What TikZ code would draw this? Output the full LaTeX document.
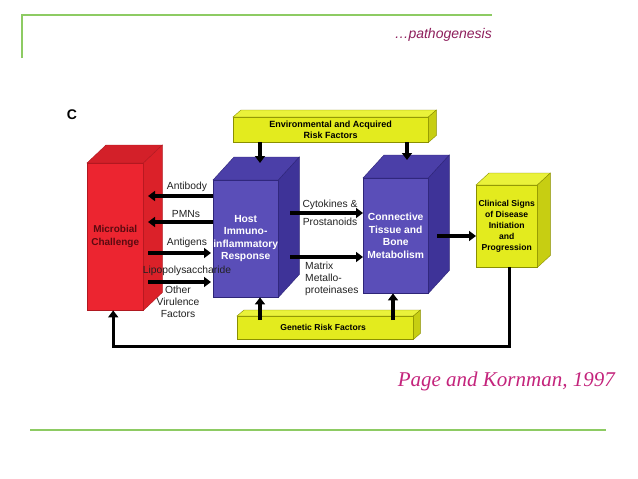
\documentclass[tikz,border=0pt]{standalone}
\usepackage{fontspec}
\setmainfont{Liberation Sans}
\newfontfamily\serifit{Liberation Serif}
\usetikzlibrary{arrows.meta}
\definecolor{redfront}{HTML}{EC2530}
\definecolor{redtop}{HTML}{D32029}
\definecolor{redside}{HTML}{DB2129}
\definecolor{rededge}{HTML}{B01820}
\definecolor{bluefront}{HTML}{5A4EB8}
\definecolor{bluetop}{HTML}{4B3FA8}
\definecolor{blueside}{HTML}{3E3398}
\definecolor{blueedge}{HTML}{2E2578}
\definecolor{yelfront}{HTML}{E3EB1E}
\definecolor{yeltop}{HTML}{EAF23A}
\definecolor{yelside}{HTML}{C7CE12}
\definecolor{yeledge}{HTML}{8A8F00}
\definecolor{slidegreen}{HTML}{8DCB63}
\definecolor{titlepurple}{HTML}{8E1F5C}
\definecolor{citemagenta}{HTML}{C4247C}
\definecolor{labelgray}{HTML}{222222}
\definecolor{maroon}{HTML}{5A0A10}
\tikzset{
  redtext/.style={text=maroon, font=\fontsize{10}{13}\selectfont\bfseries},
  bluetext/.style={text=white, font=\fontsize{10.3}{12.5}\selectfont\bfseries},
  envtext/.style={text=black, font=\fontsize{9}{10.5}\selectfont\bfseries},
  gentext/.style={text=black, font=\fontsize{8.6}{10}\selectfont\bfseries},
  clintext/.style={text=black, font=\fontsize{8.6}{11}\selectfont\bfseries},
  lbl/.style={text=labelgray, font=\fontsize{10.3}{12}\selectfont, inner sep=0pt, align=center},
  arr/.style={line width=3.1pt, draw=black, -{Triangle[length=7pt,width=10pt]}},
}
% #1 name #2 left #3 top #4 width #5 height #6 dx #7 dy #8 palette #9 text-style; text in \cuboidtext
\newcommand\cuboid[9]{%
  \node[anchor=north west, minimum width=#4pt, minimum height=#5pt, inner sep=0pt,
        fill=#8front, draw=#8edge, line width=0.4pt, align=center, #9] (#1) at (#2,#3) {\cuboidtext};
  \filldraw[fill=#8top, draw=#8edge, line width=0.4pt]
    (#1.north west) -- ++(#6,-#7) -- ([shift={(#6,-#7)}]#1.north east) -- (#1.north east) -- cycle;
  \filldraw[fill=#8side, draw=#8edge, line width=0.4pt]
    (#1.north east) -- ++(#6,-#7) -- ([shift={(#6,-#7)}]#1.south east) -- (#1.south east) -- cycle;
}
\begin{document}
\begin{tikzpicture}[x=1pt,y=-1pt]
\useasboundingbox[fill=white] (0,0) rectangle (638,479);
% slide frame
\draw[slidegreen, line width=1.2pt] (22,58) -- (22,15) -- (492,15);
\draw[slidegreen, line width=1.2pt] (30,430) -- (606,430);
\node[anchor=east, text=titlepurple, font=\fontsize{14}{16}\selectfont\itshape, inner sep=0pt] (title) at (492,35) {\ldots pathogenesis};
\node[anchor=east, text=citemagenta, font=\fontsize{21}{24}\serifit\itshape, inner sep=0pt] (cite) at (615,381) {Page and Kornman, 1997};
\node[font=\fontsize{14}{16}\selectfont\bfseries, inner sep=0pt] (letterC) at (72,115) {C};
% boxes
\def\cuboidtext{Microbial\\Challenge}
\cuboid{micro}{87}{163}{56}{147}{19}{18}{red}{redtext}
\def\cuboidtext{Host\\Immuno-\\inflammatory\\Response}
\cuboid{host}{213}{180}{65}{117}{21}{23}{blue}{bluetext}
\def\cuboidtext{Connective\\Tissue and\\Bone\\Metabolism}
\cuboid{conn}{363}{178}{65}{115}{21}{23}{blue}{bluetext}
\def\cuboidtext{Clinical Signs\\of Disease\\Initiation\\and\\Progression}
\cuboid{clin}{476}{185}{61}{82}{13}{12}{yel}{clintext}
\def\cuboidtext{Environmental and Acquired\\Risk Factors}
\cuboid{env}{233}{117}{195}{25}{8}{7}{yel}{envtext}
\def\cuboidtext{\hspace*{-4pt}Genetic Risk Factors}
\cuboid{gen}{237}{316}{176}{23}{7}{6}{yel}{gentext}
% coordinates on faces
\coordinate (mAb) at (148,196);
\coordinate (mPMN) at (148,222);
\coordinate (mAg) at (148,253);
\coordinate (mLps) at (148,282);
\coordinate (hAg) at (211,253);
\coordinate (hLps) at (211,282);
\coordinate (hCyt) at (290,213);
\coordinate (hMmp) at (290,257);
\coordinate (hTop) at (260,163);
\coordinate (cTop) at (407,160);
\coordinate (cSide) at (437,236);
\coordinate (gRight) at (393,0);
% arrows
\draw[arr] (host.west |- mAb) -- (mAb);
\draw[arr] (host.west |- mPMN) -- (mPMN);
\draw[arr] (mAg) -- (hAg);
\draw[arr] (mLps) -- (hLps);
\draw[arr] (hCyt) -- (conn.west |- hCyt);
\draw[arr] (hMmp) -- (conn.west |- hMmp);
\draw[arr] (env.south -| hTop) -- (hTop);
\draw[arr] (env.south -| cTop) -- (cTop);
\draw[arr] ([yshift=-4pt]gen.north -| hTop) -- (host.south -| hTop);
\draw[arr] ([yshift=-4pt]gen.north -| gRight) -- (conn.south -| gRight);
\draw[arr] (cSide) -- (clin.west |- cSide);
\draw[arr] ([xshift=3pt]clin.south) -- ++(0,79) -| ([xshift=-2pt]micro.south);
% labels
\node[lbl] (lAb) at (187,187) {Antibody};
\node[lbl] (lPMN) at (186,214) {PMNs};
\node[lbl] (lAg) at (187,243) {Antigens};
\node[lbl] (lLps) at (187,271) {Lipopolysaccharide};
\node[lbl] (lOther) at (178,302) {Other\\Virulence\\Factors};
\node[lbl] (lCyt) at (330,205) {Cytokines \&};
\node[lbl] (lPro) at (330,222) {Prostanoids};
\node[lbl, anchor=west, align=left] (lMmp) at (305,279) {Matrix\\Metallo-\\proteinases};
\end{tikzpicture}
\end{document}
